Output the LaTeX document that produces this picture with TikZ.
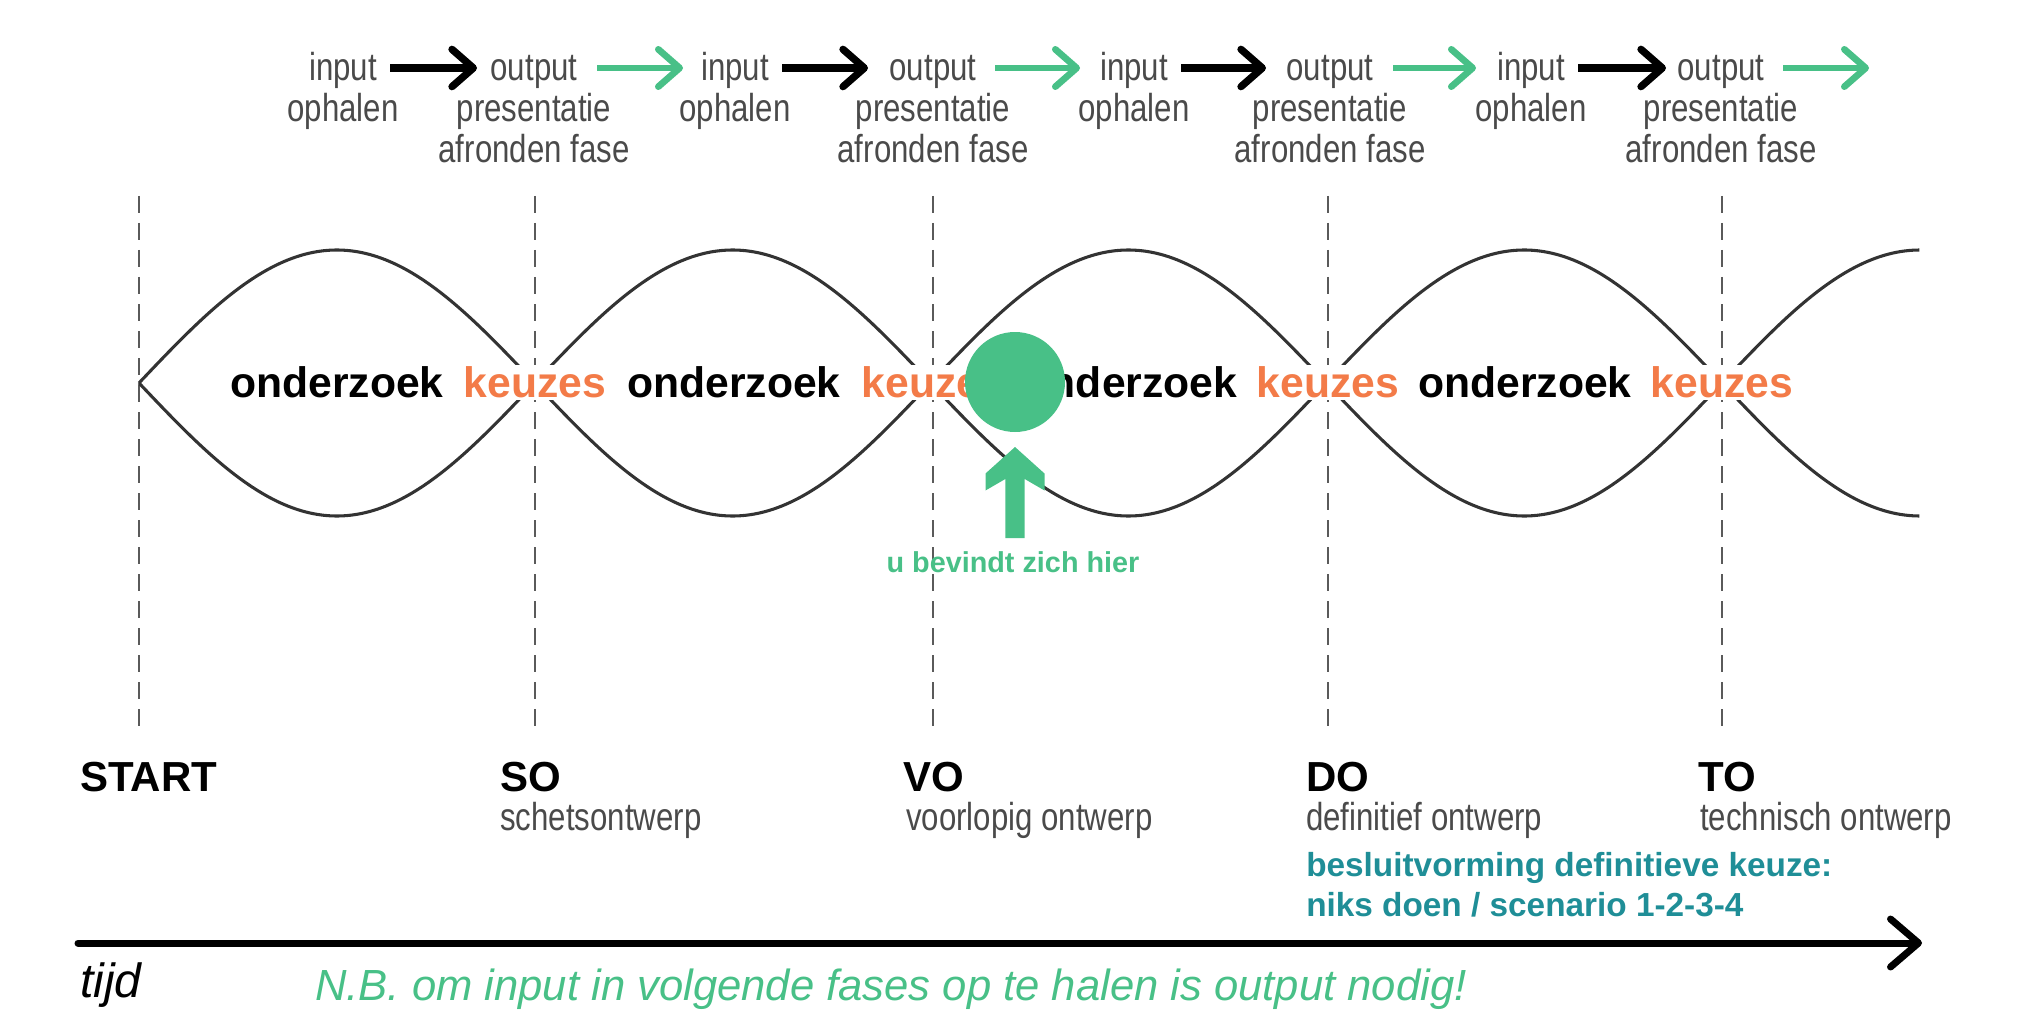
\documentclass[tikz,border=0pt]{standalone}
\usepackage{fontspec}
\setmainfont{Liberation Sans}
\newfontfamily\condfont[FakeStretch=0.8]{Liberation Sans}
\usetikzlibrary{arrows.meta,calc}
\definecolor{txtgray}{HTML}{4A4A4A}
\definecolor{curvegray}{HTML}{333333}
\definecolor{dashgray}{HTML}{5A5A5A}
\definecolor{orng}{HTML}{F37B48}
\definecolor{grn}{HTML}{48C087}
\definecolor{tealc}{HTML}{1F8E97}
\begin{document}
\begin{tikzpicture}[x=0.75pt, y=-0.75pt,
  toptxt/.style={font=\condfont\fontsize{29.25pt}{32pt}\selectfont, text=txtgray, inner sep=0pt, anchor=base},
  subtxt/.style={toptxt, anchor=base west},
  phase/.style={font=\bfseries\fontsize{31.5pt}{34pt}\selectfont, text=black, inner sep=0pt, anchor=base west},
  ond/.style={font=\bfseries\fontsize{32pt}{36pt}\selectfont, text=black, inner sep=0pt, anchor=base},
  keu/.style={ond, text=orng, fill=white, inner sep=1.5pt},
  decis/.style={font=\bfseries\fontsize{25pt}{30pt}\selectfont, text=tealc, inner sep=0pt, anchor=base west},
  dashline/.style={draw=dashgray, line width=1.8pt, dash pattern=on 12.75pt off 7.5pt},
  curve/.style={draw=curvegray, line width=2.3pt},
  blkarrow/.style={draw=black, line width=5.5pt, -{Straight Barb[length=16pt, width=28pt, round]}},
  grnarrow/.style={draw=grn, line width=5pt, -{Straight Barb[length=16pt, width=28pt, round]}},
  timearrow/.style={draw=black, line width=5.25pt, line cap=round, -{Straight Barb[length=21pt, width=36pt, round]}}
]
\useasboundingbox (0,0) rectangle (2023,1034);

% dashed phase lines
\foreach \xx in {139,535,933,1328,1722}{
  \draw[dashline] (\xx,196) -- (\xx,735);
}

% the two waves
\draw[curve] plot[domain=0:4.5, samples=300, smooth] ({139+395.75*\x},{383-133*sin(180*\x)});
\draw[curve] plot[domain=0:4.5, samples=300, smooth] ({139+395.75*\x},{383+133*sin(180*\x)});

% onderzoek / keuzes
\node[ond] (ond1) at (337,397.5) {onderzoek};
\node[ond] (ond2) at (734,397.5) {onderzoek};
\node[ond] (ond3) at (1130.5,397.5) {onderzoek};
\node[ond] (ond4) at (1525,397.5) {onderzoek};
\node[keu] (keu1) at (535,397.5) {keuzes};
\node[keu] (keu2) at (933,397.5) {keuzes};
\node[keu] (keu3) at (1328,397.5) {keuzes};
\node[keu] (keu4) at (1722,397.5) {keuzes};

% you are here
\node[circle, fill=grn, minimum size=75pt, inner sep=0pt] (here) at (1015,382) {};
\fill[grn] (1015,447) -- (1044.5,473.5) -- (1044.5,490.5) -- (1024.7,479) -- (1024.7,538)
  -- (1005.3,538) -- (1005.3,479) -- (985.5,490.5) -- (985.5,473.5) -- cycle;
\node[font=\bfseries\fontsize{21.6pt}{24pt}\selectfont, text=grn, inner sep=0pt, anchor=base] (herelabel) at (1013,572) {u bevindt zich hier};

% top row
\node[toptxt] (in1) at (343,80.5) {input};
\node[toptxt] (in1b) at (343,122) {ophalen};
\node[toptxt] (in2) at (735,80.5) {input};
\node[toptxt] (in2b) at (735,122) {ophalen};
\node[toptxt] (in3) at (1134,80.5) {input};
\node[toptxt] (in3b) at (1134,122) {ophalen};
\node[toptxt] (in4) at (1531,80.5) {input};
\node[toptxt] (in4b) at (1531,122) {ophalen};
\node[toptxt] (out1) at (534,80.5) {output};
\node[toptxt] (out1b) at (534,122) {presentatie};
\node[toptxt] (out1c) at (534,163) {afronden fase};
\node[toptxt] (out2) at (933,80.5) {output};
\node[toptxt] (out2b) at (933,122) {presentatie};
\node[toptxt] (out2c) at (933,163) {afronden fase};
\node[toptxt] (out3) at (1330,80.5) {output};
\node[toptxt] (out3b) at (1330,122) {presentatie};
\node[toptxt] (out3c) at (1330,163) {afronden fase};
\node[toptxt] (out4) at (1721,80.5) {output};
\node[toptxt] (out4b) at (1721,122) {presentatie};
\node[toptxt] (out4c) at (1721,163) {afronden fase};

\coordinate (ba1) at (390,68);  \coordinate (bb1) at (477,68);
\coordinate (ba2) at (782,68);  \coordinate (bb2) at (868,68);
\coordinate (ba3) at (1181,68); \coordinate (bb3) at (1266,68);
\coordinate (ba4) at (1578,68); \coordinate (bb4) at (1666,68);
\coordinate (ga1) at (597,68);  \coordinate (gb1) at (683,68);
\coordinate (ga2) at (995,68);  \coordinate (gb2) at (1080,68);
\coordinate (ga3) at (1393,68); \coordinate (gb3) at (1476,68);
\coordinate (ga4) at (1783,68); \coordinate (gb4) at (1869,68);
\foreach \i in {1,2,3,4}{
  \draw[blkarrow] (ba\i) -- (bb\i);
  \draw[grnarrow] (ga\i) -- (gb\i);
}

% phase labels
\node[phase] (start) at (80,791) {START};
\node[phase] (so) at (500,791) {SO};
\node[subtxt] (sosub) at (500,830) {schetsontwerp};
\node[phase] (vo) at (903,791) {VO};
\node[subtxt] (vosub) at (906,830) {voorlopig ontwerp};
\node[phase] (do) at (1306,791) {DO};
\node[subtxt] (dosub) at (1306,830) {definitief ontwerp};
\node[phase] (to) at (1698,791) {TO};
\node[subtxt] (tosub) at (1700,830) {technisch ontwerp};
\node[decis] (dec1) at (1306,876) {besluitvorming definitieve keuze:};
\node[decis] (dec2) at (1306,916) {niks doen / scenario 1-2-3-4};

% time axis
\coordinate (t0) at (78,943);
\coordinate (t1) at (1922,943);
\draw[timearrow] (t0) -- (t1);
\node[font=\itshape\fontsize{36pt}{40pt}\selectfont, inner sep=0pt, anchor=base west] (tijd) at (80,997) {tijd};
\node[font=\itshape\fontsize{32.7pt}{36pt}\selectfont, text=grn, inner sep=0pt, anchor=base west] (nb) at (315,1000) {N.B. om input in volgende fases op te halen is output nodig!};
\end{tikzpicture}
\end{document}
